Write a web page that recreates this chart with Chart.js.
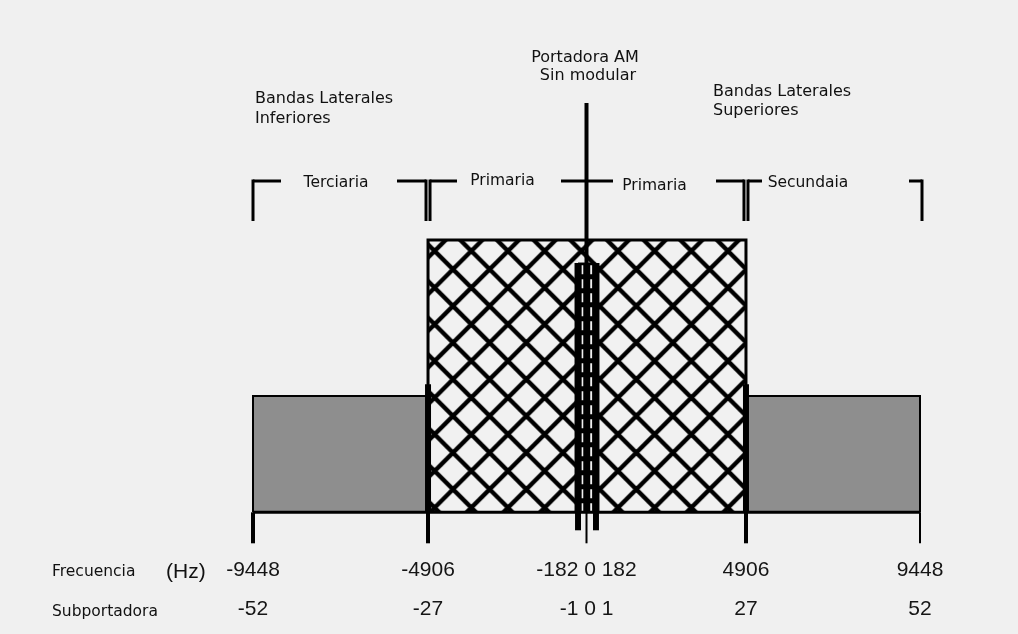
<!DOCTYPE html>
<html>
<head>
<meta charset="utf-8">
<title>Espectro AM híbrido</title>
<script src="https://cdn.jsdelivr.net/npm/chart.js@4/dist/chart.umd.min.js"></script>
<style>
  html, body { margin: 0; padding: 0; background: #f0f0f0; }
  canvas { display: block; }
</style>
</head>
<body>
<canvas id="espectro" width="1018" height="634"></canvas>
<script>
// bordes de banda (Hz) y su subportadora
var freqEdges = [-9448, -4906, -182, 0, 182, 4906, 9448];
var subcarriers = [-52, -27, -1, 0, 1, 27, 52];

// ticks con etiqueta (el grupo central va junto)
var mainTicks = [-9448, -4906, 0, 4906, 9448];

// niveles relativos, portadora = 100
var carrierLevel = 100;
var primaryLevel = 66.5;
var innerLevel = 60.9;
var referenceLevel = 31.3;
var sidebandLevel = 28.4;

// bandas marcadas arriba
var bandNames = ['Terciaria', 'Primaria', 'Primaria', 'Secundaia'];
var bandFrom = [-9448, -4906, 0, 4906];
var bandTo = [-4906, 0, 4906, 9448];

// el dibujo no esta a escala: fraccion del ancho para cada borde
var edgeFrac = [0, 0.2624, 0.4873, 0.5, 0.5142, 0.7391, 1];

function toFrac(v) {
    var n = freqEdges.length, i = 0;
    if (v <= freqEdges[0]) i = 0;
    else if (v >= freqEdges[n - 1]) i = n - 2;
    else while (i < n - 2 && v > freqEdges[i + 1]) i++;
    var t = (v - freqEdges[i]) / (freqEdges[i + 1] - freqEdges[i]);
    return edgeFrac[i] + t * (edgeFrac[i + 1] - edgeFrac[i]);
}

function fromFrac(d) {
    var n = edgeFrac.length, i = 0;
    while (i < n - 2 && d > edgeFrac[i + 1]) i++;
    var t = (d - edgeFrac[i]) / (edgeFrac[i + 1] - edgeFrac[i]);
    return freqEdges[i] + t * (freqEdges[i + 1] - freqEdges[i]);
}

class BandScale extends Chart.LinearScale {
    getPixelForValue(value) {
        if (value === null || isNaN(value)) return NaN;
        return this.getPixelForDecimal(toFrac(value));
    }
    getValueForPixel(pixel) {
        return fromFrac(this.getDecimalForPixel(pixel));
    }
}
BandScale.id = 'band';
BandScale.defaults = {};
Chart.register(BandScale);

function tickLabel(v) {
    var f = [], s = [];
    freqEdges.forEach(function (e, i) {
        if (e === v || (v === 0 && Math.abs(subcarriers[i]) <= 1)) {
            f.push(String(e));
            s.push(String(subcarriers[i]));
        }
    });
    return [f.join(' '), s.join(' ')];
}

function rect(a, b, h) {
    return [{x: a, y: 0}, {x: a, y: h}, {x: b, y: h}, {x: b, y: 0}];
}

function vline(x, h) {
    return [{x: x, y: 0}, {x: x, y: h}];
}

var canvas = document.getElementById('espectro');
var ctx = canvas.getContext('2d');

// trama cruzada de la banda primaria
var T = 110, p = T / 3;
var tile = document.createElement('canvas');
tile.width = T;
tile.height = T;
var g = tile.getContext('2d');
g.fillStyle = '#f1f1f1';
g.fillRect(0, 0, T, T);
g.strokeStyle = '#000';
g.lineWidth = 4.4;
for (var k = -6; k <= 9; k++) {
    var c = k * p;
    g.beginPath(); g.moveTo(c, 0); g.lineTo(c + T, T); g.stroke();
    g.beginPath(); g.moveTo(c, 0); g.lineTo(c - T, T); g.stroke();
}
var hatch = ctx.createPattern(tile, 'repeat');
hatch.setTransform(new DOMMatrix([1, 0, 0, 1, 471.3, 251]));

// estilos de marcas y corchetes
var tickWidth = [4, 4, 6, 2, 6, 4, 2];
var bracketInset = [[0, 2], [2, 0], [0, 2], [2, -2]];
var bracketStub = [[28, 29], [27, 25.5], [26.5, 28], [14, 13]];
var labelDx = [-4.5, -4.75, -11.75, -25];
var labelDy = [6, 4, 9, 6];

var smallFont = '15.5px "DejaVu Sans"';
var headFont = '16px "DejaVu Sans"';

var overlay = {
    id: 'overlay',
    beforeDraw: function (chart) {
        var c = chart.ctx;
        c.save();
        c.fillStyle = '#f0f0f0';
        c.fillRect(0, 0, chart.width, chart.height);
        c.restore();
    },
    afterDatasetsDraw: function (chart) {
        var c = chart.ctx, xs = chart.scales.x, ys = chart.scales.y;
        var y0 = ys.getPixelForValue(0);

        function seg(x1, y1, x2, y2) {
            c.beginPath(); c.moveTo(x1, y1); c.lineTo(x2, y2); c.stroke();
        }

        c.save();
        c.strokeStyle = '#000';

        // marcas bajo el eje
        freqEdges.forEach(function (f, i) {
            var x = xs.getPixelForValue(f);
            var inner = Math.abs(subcarriers[i]) === 1;
            c.lineWidth = tickWidth[i];
            seg(x, y0, x, y0 + (inner ? 18 : 31));
        });

        // corchetes de bandas
        var by = 181, drop = 40;
        c.lineWidth = 3;
        c.fillStyle = '#111';
        c.font = smallFont;
        c.textAlign = 'center';
        c.textBaseline = 'alphabetic';
        bandNames.forEach(function (name, i) {
            var xa = xs.getPixelForValue(bandFrom[i]);
            var xb = xs.getPixelForValue(bandTo[i]);
            var a = xa + bracketInset[i][0], b = xb - bracketInset[i][1];
            seg(a, by, a + bracketStub[i][0], by);
            seg(b - bracketStub[i][1], by, b, by);
            if (bandFrom[i] !== 0) seg(a, by - 1.5, a, by + drop);
            if (bandTo[i] !== 0) seg(b, by - 1.5, b, by + drop);
            c.fillText(name, (xa + xb) / 2 + labelDx[i], by + labelDy[i]);
        });

        // titulos
        var xl = xs.getPixelForValue(-9448), xc = xs.getPixelForValue(0), xr = xs.getPixelForValue(4906);
        c.font = headFont;
        c.textAlign = 'left';
        c.fillText('Bandas Laterales', xl + 2, 103);
        c.fillText('Inferiores', xl + 2, 122.5);
        c.fillText('Bandas Laterales', xr - 33, 96);
        c.fillText('Superiores', xr - 33, 115);
        c.textAlign = 'center';
        c.fillText('Portadora AM', xc - 1.5, 62);
        c.fillText('Sin modular', xc + 1.5, 80);

        // rotulos de filas
        c.textAlign = 'left';
        c.font = smallFont;
        c.fillText('Frecuencia', 52, 576);
        c.fillText('Subportadora', 52, 616);
        c.font = '21px "Liberation Sans", Arial';
        c.fillText('(Hz)', 166, 578);
        c.restore();
    }
};

var lineBase = {
    type: 'line',
    pointRadius: 0,
    pointHoverRadius: 0,
    tension: 0,
    clip: false,
    borderColor: '#000'
};

function ds(extra) {
    return Object.assign({}, lineBase, extra);
}

new Chart(ctx, {
    type: 'line',
    data: {
        datasets: [
            ds({ label: 'Banda base', data: [{x: freqEdges[0], y: 0}, {x: freqEdges[6], y: 0}], borderWidth: 3, fill: false, order: 1 }),
            ds({ label: 'Portadora', data: vline(0, carrierLevel), borderWidth: 4, fill: false, order: 2 }),
            ds({ label: 'Subportadora -1', data: vline(-182, innerLevel), borderWidth: 7, fill: false, order: 3 }),
            ds({ label: 'Subportadora 1', data: vline(182, innerLevel), borderWidth: 7, fill: false, order: 3 }),
            ds({ label: 'Referencia -27', data: vline(-4906, referenceLevel), borderWidth: 6, fill: false, order: 4 }),
            ds({ label: 'Referencia 27', data: vline(4906, referenceLevel), borderWidth: 6, fill: false, order: 4 }),
            ds({ label: 'Hueco -', data: vline(-182 / 2, innerLevel), borderWidth: 2, borderColor: '#f0f0f0', borderDash: [9, 5], fill: false, order: 5 }),
            ds({ label: 'Hueco +', data: vline(182 / 2, innerLevel), borderWidth: 2, borderColor: '#f0f0f0', borderDash: [9, 5], fill: false, order: 5 }),
            ds({ label: 'Interior', data: rect(-182, 182, innerLevel), borderWidth: 1, backgroundColor: '#000', fill: 'origin', order: 6 }),
            ds({ label: 'Primaria', data: rect(-4906, 4906, primaryLevel), borderWidth: 3, backgroundColor: hatch, fill: 'origin', order: 7 }),
            ds({ label: 'Terciaria', data: rect(-9448, -4906, sidebandLevel), borderWidth: 2, backgroundColor: '#8e8e8e', fill: 'origin', order: 8 }),
            ds({ label: 'Secundaria', data: rect(4906, 9448, sidebandLevel), borderWidth: 2, backgroundColor: '#8e8e8e', fill: 'origin', order: 8 })
        ]
    },
    options: {
        responsive: false,
        animation: false,
        events: [],
        devicePixelRatio: 1,
        layout: {
            padding: { left: 253, right: 98, top: 103, bottom: 5 }
        },
        scales: {
            x: {
                type: 'band',
                min: freqEdges[0],
                max: freqEdges[freqEdges.length - 1],
                grid: { display: false, drawTicks: false },
                border: { display: false },
                afterBuildTicks: function (scale) {
                    scale.ticks = mainTicks.map(function (v) { return { value: v }; });
                },
                afterFit: function (scale) {
                    scale.height = 86;
                },
                ticks: {
                    autoSkip: false,
                    maxRotation: 0,
                    padding: 8,
                    color: '#151515',
                    font: { family: '"Liberation Sans", Arial', size: 21, lineHeight: 39 / 21 },
                    callback: function (value) { return tickLabel(value); }
                }
            },
            y: {
                type: 'linear',
                display: false,
                min: -7.5,
                max: carrierLevel
            }
        },
        plugins: {
            legend: { display: false },
            tooltip: { enabled: false }
        }
    },
    plugins: [overlay]
});
</script>
</body>
</html>
